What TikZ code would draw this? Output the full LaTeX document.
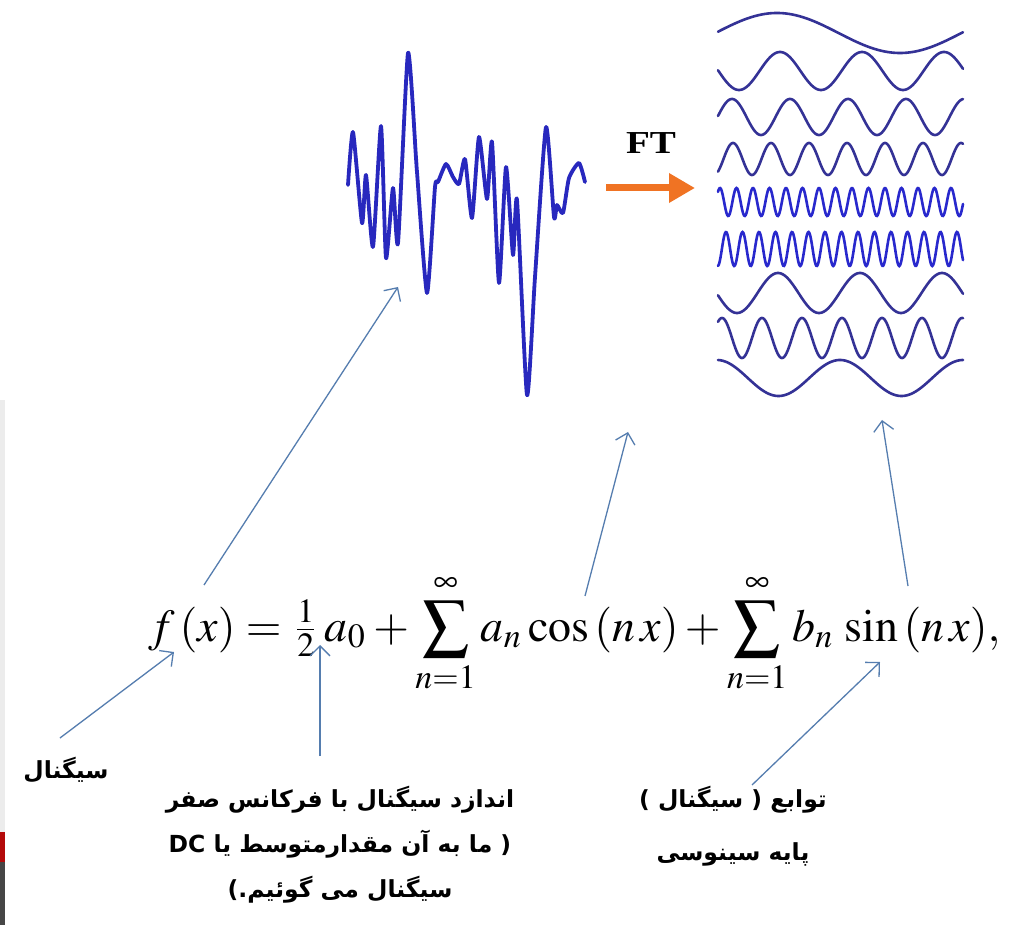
\documentclass[tikz,border=0pt]{standalone}
\usepackage{mathptmx}
\usepackage[no-math]{fontspec}
\setmainfont{Liberation Serif}
\newfontfamily\fa[Script=Arabic]{DejaVu Sans}
\usepackage{graphicx}
\usetikzlibrary{arrows.meta}
\TeXXeTstate=1
\definecolor{sigblue}{RGB}{40,40,190}
\definecolor{wavedark}{RGB}{52,50,150}
\definecolor{wavebright}{RGB}{40,40,205}
\definecolor{callblue}{RGB}{85,125,175}
\definecolor{ftorange}{RGB}{240,115,35}
\definecolor{edgegray}{RGB}{236,236,236}
\definecolor{edgered}{RGB}{180,10,10}
\definecolor{edgedark}{RGB}{70,70,70}
\begin{document}
\begin{tikzpicture}[x=1pt,y=-1pt,
  sig/.style={draw=sigblue,line width=3.8pt,line join=round,line cap=round},
  wave/.style={line width=2.6pt,line cap=round},
  callout/.style={draw=callblue,line width=1.3pt,-{Straight Barb[length=10pt,width=20pt,line width=1.3pt]}},
  fatext/.style={font=\fa\bfseries\fontsize{23.5}{45}\selectfont,align=center,text=black},
  ftlabel/.style={font=\bfseries\fontsize{32}{34}\selectfont,text=black}]
\useasboundingbox (0,0) rectangle (1013,925);
\fill[white] (0,0) rectangle (1013,925);
% left edge strips
\fill[edgegray] (0,400) rectangle (5,832);
\fill[edgered] (0,832) rectangle (5,862);
\fill[edgedark] (0,862) rectangle (5,925);
% signal
\draw[sig] plot[smooth,tension=0.35] coordinates {(348,185) (353,132) (362,223) (366,175) (373,247) (381,126) (386,258) (393,188) (398,243) (408,53) (416,158) (417,172) (427,293) (435,187) (438,182) (446,164) (453,177) (459,184) (465,159) (472,218) (479,137) (487,199) (492,142) (499,283) (506,167) (513,255) (517,200) (527,395) (535,277) (546,127) (554,217) (557,205) (563,213) (569,178) (579,163) (585,182)};
% sinusoid basis
\foreach \cy/\am/\per/\pk/\cl in {33/20/246/777/wavedark, 71/19/82/780/wavedark, 117/18/58/732/wavedark, 159/16/38/733/wavedark, 202/14/16.5/720/wavebright, 249/17/16.5/726/wavebright, 293/20/82/778/wavedark, 338/20/40/722/wavedark, 378/18/123/840/wavedark}{
  \draw[wave,draw=\cl] plot[domain=718:963,samples=320,smooth] (\x,{\cy-\am*cos((\x-\pk)/\per*360)});
}
% FT arrow
\node[ftlabel,xscale=1.22,transform shape] (ft) at (651,143) {FT};
\coordinate (ftstart) at (606,188);
\coordinate (ftend) at (695,188);
\draw[draw=ftorange,line width=7pt,-{Triangle[length=26pt,width=28pt]}] (ftstart) -- (ftend);
% formula
\node[anchor=base west,inner sep=0pt] (formula) at (148,641) {\resizebox{852pt}{!}{$\displaystyle f\,(x) = {\textstyle\frac{1}{2}}\,a_0 + \sum_{n=1}^{\infty} a_n \cos\,(n\,x) + \sum_{n=1}^{\infty} b_n\,\sin\,(n\,x),$}};
% labels
\node[fatext] (lsig) at (66,770) {\beginR سیگنال\endR};
\node[fatext] (ldc) at (340,845) {\beginR اندازد سیگنال با فرکانس صفر\endR\\ \beginR( ما به آن مقدارمتوسط یا \beginL DC\endL\endR\\ \beginR سیگنال می گوئیم.)\endR};
\node[fatext,font=\fa\bfseries\fontsize{23.5}{53}\selectfont] (lbasis) at (733,826) {\beginR توابع ( سیگنال )\endR\\ \beginR پایه سینوسی\endR};
% callout arrows
\coordinate (fTail) at (204,585);
\coordinate (sigTip) at (398,287);
\coordinate (cosTail) at (585,596);
\coordinate (cosTip) at (628,432);
\coordinate (sinTail) at (908,586);
\coordinate (sinTip) at (882,420);
\coordinate (lsigTail) at (60,738);
\coordinate (fTip) at (174,652);
\coordinate (halfTail) at (320,756);
\coordinate (halfTip) at (320,645);
\coordinate (basisTail) at (752,785);
\coordinate (sinArgTip) at (880,662);
\draw[callout] (fTail) -- (sigTip);
\draw[callout] (cosTail) -- (cosTip);
\draw[callout] (sinTail) -- (sinTip);
\draw[callout] (lsigTail) -- (fTip);
\draw[callout] (halfTail) -- (halfTip);
\draw[callout] (basisTail) -- (sinArgTip);
\end{tikzpicture}
\end{document}
